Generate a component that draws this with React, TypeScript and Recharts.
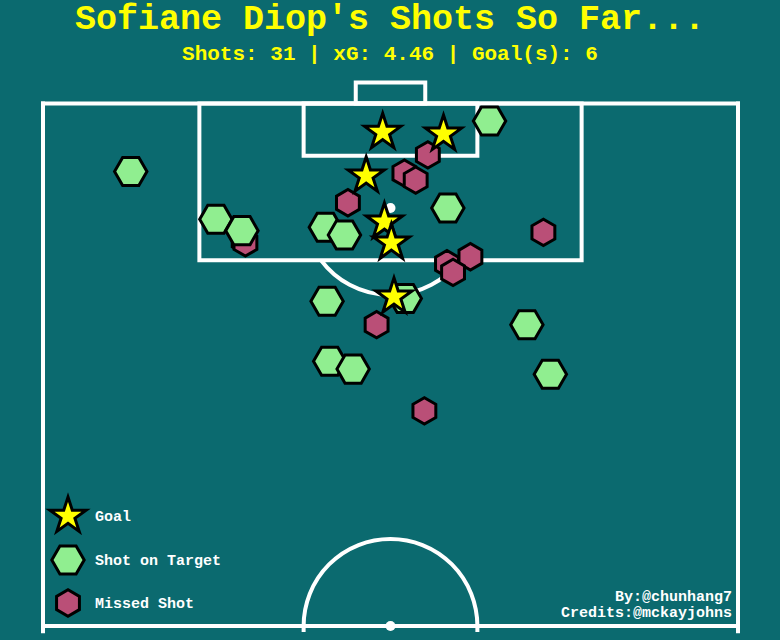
import React from "react";
import { ScatterChart, Scatter, XAxis, YAxis, ReferenceArea, ReferenceLine, ReferenceDot, Legend } from "recharts";

// pitch coords: x = across the pitch (0-80), y = yards from the goal line (0-60)
const goals = [
    { x: 39.1, y: 3.3 }, { x: 46.1, y: 3.5 }, { x: 37.2, y: 8.3 },
    { x: 39.3, y: 13.6 }, { x: 40.1, y: 16.0 }, { x: 40.4, y: 22.2 },
];
const onTarget = [
    { x: 51.4, y: 2.0 }, { x: 10.1, y: 7.8 }, { x: 19.9, y: 13.3 }, { x: 22.9, y: 14.6 },
    { x: 32.5, y: 14.2 }, { x: 34.7, y: 15.1 }, { x: 46.6, y: 12.0 }, { x: 32.7, y: 22.7 },
    { x: 41.7, y: 22.4 }, { x: 55.7, y: 25.4 }, { x: 33.0, y: 29.6 }, { x: 35.7, y: 30.5 },
    { x: 58.4, y: 31.1 },
];
const missed = [
    { x: 44.3, y: 5.9 }, { x: 41.6, y: 8.0 }, { x: 42.9, y: 8.8 }, { x: 35.1, y: 11.4 },
    { x: 23.1, y: 15.7 }, { x: 23.3, y: 16.0 }, { x: 57.6, y: 14.8 }, { x: 49.2, y: 17.6 },
    { x: 46.5, y: 18.4 }, { x: 47.2, y: 19.4 }, { x: 38.4, y: 25.4 }, { x: 43.9, y: 35.3 },
];

const seriesNames = ["Goal", "Shot on Target", "Missed Shot"];
const playerName = "Sofiane Diop";
const totalShots = 31;
const totalXg = 4.46;
const totalGoals = 6;
const credits = ["By:@chunhang7", "Credits:@mckayjohns"];

const BG = "#0b6a6f";
const FONT = "'Liberation Mono', 'Courier New', monospace";

function Star({ cx, cy, r = 19 }: any) {
    const pts: string[] = [];
    for (let i = 0; i < 10; i++) {
        const rad = i % 2 === 0 ? r : r * 0.382;
        const a = -Math.PI / 2 + (i * Math.PI) / 5;
        pts.push(`${cx + rad * Math.cos(a)},${cy + rad * Math.sin(a)}`);
    }
    return <polygon points={pts.join(" ")} fill="#ffff00" stroke="#000" strokeWidth={3} />;
}

function Hexagon({ cx, cy, r, rot, fill }: any) {
    const pts: string[] = [];
    for (let i = 0; i < 6; i++) {
        const a = rot + (i * Math.PI) / 3;
        pts.push(`${cx + r * Math.cos(a)},${cy + r * Math.sin(a)}`);
    }
    return <polygon points={pts.join(" ")} fill={fill} stroke="#000" strokeWidth={3} />;
}

const GreenHex = (p: any) => <Hexagon cx={p.cx} cy={p.cy} r={16.2} rot={0} fill="#90ee90" />;
const RedHex = (p: any) => <Hexagon cx={p.cx} cy={p.cy} r={13.2} rot={Math.PI / 6} fill="#ba4f77" />;
const GoalStar = (p: any) => <Star cx={p.cx} cy={p.cy} />;

// arc of the "D" below the box line (bounding box = lower half of circle round the spot)
const DArc = (p: any) => {
    const x = Math.min(p.x, p.x + p.width), y = Math.min(p.y, p.y + p.height);
    const rx = Math.abs(p.width) / 2, ry = Math.abs(p.height);
    const cx = x + rx;
    return (
        <path d={`M${cx - 0.8 * rx},${y + 0.6 * ry} A${rx},${ry} 0 0 0 ${cx + 0.8 * rx},${y + 0.6 * ry}`}
            fill="none" stroke="#fff" strokeWidth={4} />
    );
};

// top half of the centre circle
const CentreArc = (p: any) => {
    const x = Math.min(p.x, p.x + p.width), y = Math.min(p.y, p.y + p.height);
    const rx = Math.abs(p.width) / 2, ry = Math.abs(p.height);
    const cx = x + rx, cy = y + ry;
    return (
        <path d={`M${cx - rx},${cy + 6} L${cx - rx},${cy} A${rx},${ry} 0 0 1 ${cx + rx},${cy} L${cx + rx},${cy + 6}`}
            fill="none" stroke="#fff" strokeWidth={4} />
    );
};

const lineProps = { stroke: "#fff", strokeWidth: 4, strokeLinecap: "square" as const, ifOverflow: "visible" as const };
const boxProps = { fill: "none", fillOpacity: 0, stroke: "#fff", strokeWidth: 4, ifOverflow: "visible" as const };

const legendMarkers = [GoalStar, GreenHex, RedHex];

const renderLegend = () => (
    <svg width={260} height={140}>
        {seriesNames.map((name, i) => {
            const Marker = legendMarkers[i];
            const cy = [26, 70, 113][i];
            return (
                <g key={name}>
                    <Marker cx={68} cy={cy} />
                    <text x={95} y={cy + 5} fill="#fff" fontFamily={FONT} fontWeight="bold" fontSize={15}>{name}</text>
                </g>
            );
        })}
    </svg>
);

export default function App() {
    return (
        <div style={{ position: "absolute", top: 0, left: 0, width: 780, height: 640, background: BG, overflow: "hidden" }}>
            <ScatterChart width={780} height={640} margin={{ top: 103.5, left: 43, right: 42, bottom: 14 }}>
                <XAxis type="number" dataKey="x" domain={[0, 80]} hide />
                <YAxis type="number" dataKey="y" domain={[0, 60]} reversed hide />

                <ReferenceArea x1={18} x2={62} y1={0} y2={18} {...boxProps} />
                <ReferenceArea x1={30} x2={50} y1={0} y2={6} {...boxProps} />
                <ReferenceArea x1={36} x2={44} y1={-2.4} y2={0} {...boxProps} />
                <ReferenceArea x1={30} x2={50} y1={12} y2={22} ifOverflow="visible" shape={DArc} />
                <ReferenceArea x1={30} x2={50} y1={50} y2={60} ifOverflow="visible" shape={CentreArc} />

                <ReferenceLine segment={[{ x: 0, y: 0 }, { x: 80, y: 0 }]} {...lineProps} />
                <ReferenceLine segment={[{ x: 0, y: 60 }, { x: 80, y: 60 }]} {...lineProps} />
                <ReferenceLine segment={[{ x: 0, y: 0 }, { x: 0, y: 60.6 }]} {...lineProps} />
                <ReferenceLine segment={[{ x: 80, y: 0 }, { x: 80, y: 60.6 }]} {...lineProps} />

                <ReferenceDot x={40} y={12} r={5} fill="#fff" stroke="none" ifOverflow="visible" />
                <ReferenceDot x={40} y={60} r={5} fill="#fff" stroke="none" ifOverflow="visible" />

                <Scatter name={seriesNames[2]} data={missed} shape={RedHex} isAnimationActive={false} />
                <Scatter name={seriesNames[1]} data={onTarget} shape={GreenHex} isAnimationActive={false} />
                <Scatter name={seriesNames[0]} data={goals} shape={GoalStar} isAnimationActive={false} />

                <Legend layout="horizontal" verticalAlign="middle" content={renderLegend}
                    wrapperStyle={{ left: 0, top: 490, width: 260, height: 140 }} />
            </ScatterChart>

            <svg width={780} height={640} style={{ position: "absolute", top: 0, left: 0, pointerEvents: "none" }}>
                <text x={390} y={28.5} textAnchor="middle" fill="#ffff00" fontFamily={FONT} fontWeight="bold" fontSize={35}>
                    {`${playerName}'s Shots So Far...`}
                </text>
                <text x={390} y={60} textAnchor="middle" fill="#ffff00" fontFamily={FONT} fontWeight="bold" fontSize={21}>
                    {`Shots: ${totalShots} | xG: ${totalXg} | Goal(s): ${totalGoals}`}
                </text>
                {credits.map((c, i) => (
                    <text key={c} x={732} y={601 + i * 16} textAnchor="end" fill="#fff" fontFamily={FONT} fontWeight="bold" fontSize={15}>
                        {c}
                    </text>
                ))}
            </svg>
        </div>
    );
}
